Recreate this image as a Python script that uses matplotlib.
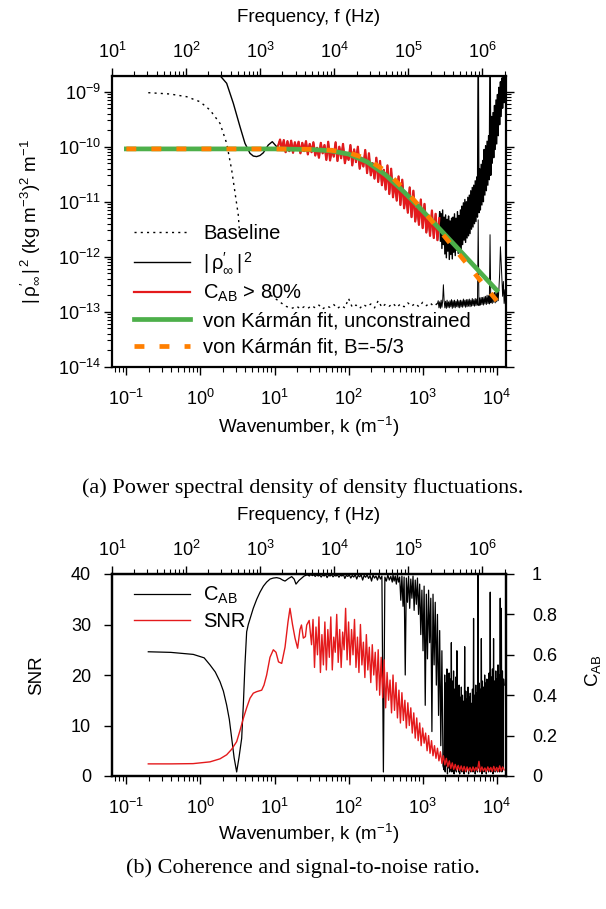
import numpy as np
import matplotlib
matplotlib.use('Agg')
import matplotlib.pyplot as plt
from matplotlib.ticker import FixedLocator

plt.rcParams['font.family'] = ['Liberation Sans', 'DejaVu Sans']
plt.rcParams['mathtext.fontset'] = 'custom'
plt.rcParams['mathtext.rm'] = 'Liberation Sans'
plt.rcParams['mathtext.it'] = 'Liberation Sans:italic'
plt.rcParams['mathtext.default'] = 'regular'

RED = '#e41a1c'
GREEN = '#4daf4a'
ORANGE = '#ff7f00'

# frequency = k * U / (2 pi)
F_PER_K = 156.0
FREQ_TICKS = [1e1, 1e2, 1e3, 1e4, 1e5, 1e6]

# ---------------- panel (a): spectra, log10 values ----------------
# baseline, smooth low-k part
bl1_logk = [-0.704, -0.55, -0.411, -0.186, -0.006, 0.129, 0.264, 0.354, 0.422, 0.511, 0.53]
bl1_logP = [-9.018, -9.03, -9.042, -9.091, -9.182, -9.333, -9.575, -9.938, -10.424, -11.242, -11.6]
# baseline, after it comes back into range
bl2_logk = [0.95, 1.05, 1.15, 1.23]
bl2_logP = [-12.70, -12.80, -12.90, -12.94]
# baseline noise, logk 1.25 .. 3.20
bl3_logP = [-12.93, -12.90, -12.95, -12.91, -12.94, -12.89, -12.93, -12.88, -12.95, -12.90,
            -12.92, -12.87, -12.94, -12.89, -12.93, -12.76, -12.92, -12.88, -12.94, -12.87,
            -12.91, -12.86, -12.93, -12.80, -12.92, -12.86, -12.90, -12.85, -12.92, -12.86,
            -12.91, -12.84, -12.90, -12.85, -12.91, -12.83, -12.89, -12.84, -12.90, -12.85]
# baseline noise, logk 3.21 .. 4.12
bl4_logP = [-12.80, -12.93, -12.82, -12.94, -12.79, -12.92, -12.81, -12.51, -12.80, -12.93,
            -12.81, -12.94, -12.79, -12.92, -12.82, -12.93, -12.80, -12.91, -12.78, -12.94,
            -12.80, -12.92, -12.79, -12.93, -12.81, -12.91, -12.78, -12.92, -12.80, -12.93,
            -12.79, -12.91, -12.80, -12.92, -12.77, -12.90, -12.79, -12.92, -12.78, -12.91,
            -12.78, -12.90, -12.77, -12.91, -12.79, -12.90, -12.76, -12.89, -12.78, -12.90,
            -12.76, -12.89, -12.77, -12.88, -11.33, -12.89, -12.75, -12.88, -12.74, -12.87,
            -12.74, -12.88, -12.73, -12.86, -12.72, -12.87, -12.70, -12.85, -12.71, -12.86,
            -11.60, -12.84, -12.68, -12.85, -12.66, -12.83, -12.65, -12.84, -12.63, -12.82,
            -12.62, -12.80, -12.58, -12.30, -11.82, -12.10, -12.40, -12.72, -12.45, -12.85,
            -12.60, -12.95]

# |rho'|^2, low-k part
rho_lo_logk = [-0.70, 0.10, 0.20, 0.266, 0.354, 0.444, 0.534, 0.601, 0.669, 0.714,
               0.759, 0.804, 0.849, 0.916, 0.970, 1.029]
rho_lo_logP = [-7.5, -8.2, -8.55, -8.71, -8.847, -9.211, -9.636, -9.938, -10.12, -10.17,
               -10.18, -10.16, -10.11, -9.969, -9.909, -10.0]
# C_AB > 80 % part, logk 1.05 .. 3.225
red_logP = [-9.98, -9.87, -10.06, -9.88, -10.10, -9.90, -10.08, -9.89, -10.11, -9.92,
            -10.06, -9.91, -10.12, -9.93, -10.08, -9.90, -10.14, -9.95, -10.10, -9.92,
            -10.16, -10.02, -10.20, -9.93, -10.12, -9.97, -10.24, -9.91, -10.25, -10.04,
            -10.18, -9.92, -10.26, -10.00, -10.21, -9.95, -10.30, -10.12, -10.24, -9.97,
            -10.34, -10.05, -10.28, -10.00, -10.40, -10.20, -10.36, -10.06, -10.48, -10.12,
            -10.52, -10.30, -10.58, -10.20, -10.64, -10.26, -10.70, -10.42, -10.78, -10.34,
            -10.86, -10.40, -10.92, -10.62, -10.98, -10.54, -11.06, -10.60, -11.12, -10.84,
            -11.20, -10.74, -11.28, -10.80, -11.36, -11.05, -11.42, -10.96, -11.48, -11.04,
            -11.56, -11.25, -11.62, -11.16, -11.66, -11.22, -11.70, -11.30]
# |rho'|^2, noisy high-k part, logk 3.23 .. 4.12
rho_hi_logP = [-11.18, -11.72, -11.22, -11.85, -11.15, -11.78, -11.28, -11.95, -11.24, -12.02,
               -11.32, -11.90, -11.26, -12.05, -11.35, -11.96, -11.30, -12.04, -11.28, -11.92,
               -11.22, -11.98, -11.30, -11.88, -11.18, -11.94, -11.25, -11.85, -11.15, -11.90,
               -11.08, -11.78, -11.02, -11.70, -10.96, -11.74, -11.00, -11.66, -10.92, -11.62,
               -10.88, -11.58, -10.80, -11.50, -10.74, -11.46, -10.70, -11.40, -10.62, -11.36,
               -10.55, -11.28, -8.00, -11.20, -10.40, -11.15, -10.32, -11.06, -10.25, -11.00,
               -10.05, -10.88, -9.98, -10.80, -9.90, -10.70, -9.80, -10.60, -8.00, -10.52,
               -9.45, -10.30, -9.38, -10.20, -9.25, -10.05, -9.15, -9.95, -9.05, -9.80,
               -8.92, -9.60, -8.82, -9.45, -8.75, -9.30, -8.65, -9.20, -8.55, -9.05]

# von Karman fits
fit_logk = [-1.0, 0.0, 1.0, 1.5, 1.75, 2.0, 2.25, 2.5, 2.75, 3.0, 3.25, 3.5, 3.75, 4.0]
fit_free_logP = [-10.04, -10.04, -10.04, -10.051, -10.073, -10.134, -10.275, -10.513,
                 -10.824, -11.168, -11.525, -11.885, -12.247, -12.609]
fit_b53_logP = [-10.04, -10.04, -10.041, -10.047, -10.063, -10.108, -10.221, -10.444,
                -10.769, -11.150, -11.556, -11.968, -12.384, -12.80]

# ---------------- panel (b): coherence and SNR ----------------
cab_lo_logk = [-0.704, -0.40, -0.097, 0.05, 0.129, 0.20, 0.264, 0.31, 0.354, 0.39,
               0.422, 0.455, 0.489, 0.52, 0.557, 0.58, 0.601, 0.624, 0.646, 0.713,
               0.76, 0.804, 0.85, 0.894, 0.94, 0.984, 1.03, 1.074, 1.11, 1.142,
               1.19, 1.232, 1.265, 1.290, 1.33, 1.367, 1.40, 1.435]
cab_lo = [0.615, 0.612, 0.602, 0.585, 0.55, 0.515, 0.467, 0.42, 0.351, 0.28,
          0.187, 0.09, 0.02, 0.09, 0.187, 0.36, 0.55, 0.714, 0.75, 0.83,
          0.875, 0.91, 0.94, 0.96, 0.975, 0.98, 0.982, 0.978, 0.97, 0.965,
          0.978, 0.987, 0.975, 0.95, 0.968, 0.98, 0.99, 0.995]
# logk 1.45 .. 2.59
cab_mid = [0.995, 0.99, 0.998, 0.992, 0.996, 0.988, 0.997, 0.99, 0.995, 0.985,
           0.996, 0.99, 0.998, 0.982, 0.995, 0.99, 0.997, 0.986, 0.994, 0.99,
           0.996, 0.984, 0.995, 0.99, 0.998, 0.978, 0.994, 0.988, 0.996, 0.98,
           0.993, 0.985, 0.997, 0.975, 0.994, 0.986, 0.996, 0.97, 0.993, 0.984,
           0.996, 0.978, 0.992, 0.965, 0.995, 0.98, 0.99, 0.97, 0.994, 0.975,
           0.99, 0.02, 0.985, 0.965, 0.995, 0.97, 0.988, 0.96]
# logk 2.60 .. 3.275
cab_hi = [0.995, 0.965, 0.99, 0.95, 0.995, 0.96, 0.985,
          0.87, 0.99, 0.84, 0.985, 0.5, 0.98, 0.86, 0.99, 0.83, 0.975, 0.88, 0.99, 0.82,
          0.97, 0.85, 0.98, 0.80,
          0.95, 0.70, 0.92, 0.62, 0.94, 0.35, 0.90, 0.58, 0.92, 0.66, 0.88, 0.22, 0.90,
          0.55, 0.86, 0.45, 0.80, 0.30, 0.72, 0.15, 0.62, 0.05]
# logk 3.29 .. 4.10
cab_tail = [0.03, 0.50, 0.02, 0.46, 0.05, 0.53, 0.01, 0.44, 0.04, 0.51,
            0.02, 0.48, 0.03, 0.66, 0.02, 0.47, 0.04, 0.52, 0.01, 0.43,
            0.03, 0.49, 0.02, 0.62, 0.05, 0.41, 0.02, 0.45, 0.01, 0.39,
            0.03, 0.44, 0.02, 0.40, 0.04, 0.37, 0.01, 0.64, 0.03, 0.42,
            0.02, 0.38, 0.04, 0.44, 0.01, 0.39, 0.03, 0.41, 0.02, 0.36,
            0.04, 0.43, 0.02, 0.78, 0.03, 0.40, 0.01, 0.45, 0.03, 0.41,
            0.02, 1.00, 0.04, 0.46, 0.02, 0.43, 0.03, 0.68, 0.01, 0.47,
            0.03, 0.44, 0.02, 0.50, 0.04, 0.46, 0.01, 0.48, 0.03, 0.45,
            0.02, 0.51, 0.04, 0.91, 0.02, 0.49, 0.03, 0.53, 0.01, 0.68,
            0.04, 0.47, 0.02, 0.52, 0.03, 0.48, 0.02, 0.55, 0.04, 0.50,
            0.02, 0.88, 0.03, 0.83, 0.02, 0.52, 0.04, 0.48, 0.45]

snr_lo_logk = [-0.704, -0.40, -0.10, 0.129, 0.264, 0.354, 0.422, 0.489, 0.534, 0.579,
               0.624, 0.669, 0.714, 0.759, 0.827, 0.858, 0.894, 0.939, 0.984, 1.02,
               1.054, 1.097, 1.142, 1.182, 1.209, 1.243, 1.277, 1.312, 1.344, 1.364,
               1.389, 1.417, 1.435, 1.468]
snr_lo = [2.4, 2.4, 2.45, 2.8, 3.4, 4.2, 5.3, 6.8, 9.0, 11.4,
          13.5, 15.4, 16.4, 16.7, 17.0, 18.0, 20.0, 23.5, 25.0, 24.5,
          22.6, 22.3, 25.5, 30.5, 33.2, 30.0, 27.3, 25.3, 29.0, 29.9,
          27.3, 27.6, 29.9, 30.8]
# logk 1.50 .. 4.10
snr_hi = [26.0, 31.0, 21.5, 29.5, 24.0, 31.5, 20.5, 28.0, 22.0, 30.5,
          21.0, 29.0, 23.5, 31.5, 21.0, 27.5, 24.5, 32.0, 22.5, 29.0,
          21.5, 28.5, 25.0, 33.2, 23.0, 30.5, 22.0, 29.0, 24.0, 31.0,
          21.5, 27.5, 20.5, 30.0, 22.0, 26.5, 19.5, 28.0, 21.0, 25.5,
          18.5, 26.0, 20.0, 24.5, 17.0, 25.0, 16.0, 23.5, 15.5, 23.0,
          13.5, 20.5, 15.0, 19.0, 12.5, 20.0, 13.0, 18.5, 11.5, 17.0,
          10.5, 16.5, 11.0, 15.0, 9.5, 14.5, 10.0, 13.5, 8.5, 12.5,
          7.5, 11.5, 7.0, 10.5, 6.0, 9.5, 6.5, 8.5, 5.0, 8.0,
          4.5, 7.0, 4.0, 6.0, 3.5, 5.5, 3.0, 4.8, 2.5, 4.0,
          2.2, 3.5, 1.8, 3.0, 1.5, 2.6, 1.3, 2.3, 1.2, 2.1,
          1.1, 2.0, 1.0, 1.9, 0.9, 1.8, 1.0, 1.7, 0.9, 1.8,
          1.0, 1.7, 1.1, 2.9, 0.9, 1.8, 1.0, 1.6, 0.9, 1.8,
          1.0, 1.7, 0.9, 1.9, 1.0, 1.7, 0.9, 2.0, 1.0, 1.8,
          1.2]

# ---------------- assemble ----------------
k_base_sparse = np.concatenate([10 ** np.array(bl1_logk), [np.nan], 10 ** np.array(bl2_logk),
                                np.logspace(1.25, 3.20, len(bl3_logP))])
P_base_sparse = 10 ** np.concatenate([bl1_logP, [np.nan], bl2_logP, bl3_logP])
k_base_dense = np.concatenate([[k_base_sparse[-1]], np.logspace(3.21, 4.12, len(bl4_logP))])
P_base_dense = 10 ** np.concatenate([[bl3_logP[-1]], bl4_logP])

k_red = np.logspace(1.05, 3.225, len(red_logP))
P_red = 10 ** np.array(red_logP)
k_rho = np.concatenate([10 ** np.array(rho_lo_logk), k_red,
                        np.logspace(3.23, 4.12, len(rho_hi_logP))])
P_rho = 10 ** np.concatenate([rho_lo_logP, red_logP, rho_hi_logP])
k_fit = 10 ** np.array(fit_logk)

k_cab = np.concatenate([10 ** np.array(cab_lo_logk), np.logspace(1.45, 2.59, len(cab_mid)),
                        np.logspace(2.60, 3.275, len(cab_hi)),
                        np.logspace(3.29, 4.10, len(cab_tail))])
cab = np.concatenate([cab_lo, cab_mid, cab_hi, cab_tail])
k_snr = np.concatenate([10 ** np.array(snr_lo_logk), np.logspace(1.50, 4.10, len(snr_hi))])
snr = np.concatenate([snr_lo, snr_hi])

W, H = 606.0, 909.0
XL, XR = 112.0, 505.6
KMIN, KMAX = 10 ** -1.194, 10 ** 4.12
FS_TICK = 13
FS_LAB = 13.5
FS_LEG = 14.5

fig = plt.figure(figsize=(6.06, 9.09), dpi=100)


def style_axis(ax):
    for s in ax.spines.values():
        s.set_linewidth(1.6)
    ax.tick_params(which='major', direction='out', length=6, width=1, labelsize=FS_TICK)
    ax.tick_params(which='minor', direction='out', length=3.5, width=0.8)


def add_freq_axis(ax, top_px, bot_px):
    sec = ax.secondary_xaxis('top', functions=(lambda k: k * F_PER_K, lambda f: f / F_PER_K))
    sec.xaxis.set_major_locator(FixedLocator(FREQ_TICKS))
    sec.tick_params(which='major', direction='out', length=6, width=1, labelsize=FS_TICK, pad=4)
    sec.tick_params(which='minor', direction='out', length=3.5, width=0.8)
    sec.set_xlabel('Frequency, f (Hz)', fontsize=FS_LAB)
    sec.xaxis.set_label_coords(0.5, 1 + 58.7 / (bot_px - top_px), transform=ax.transAxes)
    sec.xaxis.label.set_va('center')
    return sec


# ---------------- panel (a) ----------------
a_top, a_bot = 75.7, 366.7
axa = fig.add_axes([XL / W, 1 - a_bot / H, (XR - XL) / W, (a_bot - a_top) / H])
axa.set_xscale('log')
axa.set_yscale('log')
axa.plot(k_base_sparse, P_base_sparse, color='black', lw=1.0, ls=(0, (1.5, 3)),
         label='Baseline')
axa.plot(k_base_dense, P_base_dense, color='black', lw=0.7)
axa.plot(k_rho, P_rho, color='black', lw=1.0,
         label=r'$|\,\rho^{\prime}_{\infty}\,|^{\,2}$')
axa.plot(k_red, P_red, color=RED, lw=1.6, label=r'$C_{AB}$ > 80%')
axa.plot(k_fit, 10 ** np.array(fit_free_logP), color=GREEN, lw=3.4,
         label='von Kármán fit, unconstrained')
axa.plot(k_fit, 10 ** np.array(fit_b53_logP), color=ORANGE, lw=3.4, ls=(0, (2.1, 3.2)),
         label='von Kármán fit, B=-5/3')
axa.set_xlim(KMIN, KMAX)
axa.set_ylim(1e-14, 10 ** -8.709)
style_axis(axa)
axa.tick_params(which='both', top=False, right=True)
axa.tick_params(axis='y', which='major', pad=2)
axa.tick_params(axis='x', which='major', pad=10)
axa.set_xlabel('Wavenumber, k (m$^{-1}$)', fontsize=FS_LAB)
axa.xaxis.set_label_coords(0.5, -(426.7 - a_bot) / (a_bot - a_top))
axa.xaxis.label.set_va('center')
axa.set_ylabel(r'$|\,\rho^{\prime}_{\infty}\,|^{\,2}$ (kg m$^{-3}$)$^2$ m$^{-1}$', fontsize=FS_LAB)
axa.yaxis.set_label_coords(-(XL - 30) / (XR - XL), 0.5)
axa.yaxis.label.set_va('center')
add_freq_axis(axa, a_top, a_bot)
axa.legend(loc='upper left', bbox_to_anchor=(0.055, 0.49), frameon=False, fontsize=FS_LEG,
           handlelength=2.8, handletextpad=0.65, labelspacing=0.36, borderpad=0, borderaxespad=0)

fig.text(0.5, 1 - 488 / H, '(a) Power spectral density of density fluctuations.',
         ha='center', va='center', fontsize=16, family='Liberation Serif')

# ---------------- panel (b) ----------------
b_top, b_bot = 574.0, 776.0
axb = fig.add_axes([XL / W, 1 - b_bot / H, (XR - XL) / W, (b_bot - b_top) / H])
axc = axb.twinx()
axb.set_zorder(axc.get_zorder() + 1)
axb.patch.set_visible(False)
axb.set_xscale('log')
l_cab, = axc.plot(k_cab, cab, color='black', lw=0.9, label=r'$C_{AB}$')
l_snr, = axb.plot(k_snr, snr, color=RED, lw=1.0, label='SNR')
axb.set_xlim(KMIN, KMAX)
axb.set_ylim(0, 40)
axc.set_ylim(0, 1)
axb.set_yticks([0, 10, 20, 30, 40])
axc.set_yticks([0, 0.2, 0.4, 0.6, 0.8, 1.0])
axc.set_yticklabels(['0', '0.2', '0.4', '0.6', '0.8', '1'])
style_axis(axb)
style_axis(axc)
axb.tick_params(which='both', top=False, right=False)
axb.tick_params(axis='y', which='major', pad=9)
axb.tick_params(axis='x', which='major', pad=10)
axc.tick_params(axis='y', which='major', pad=13)
axb.set_xlabel('Wavenumber, k (m$^{-1}$)', fontsize=FS_LAB)
axb.xaxis.set_label_coords(0.5, -(834 - b_bot) / (b_bot - b_top))
axb.xaxis.label.set_va('center')
axb.set_ylabel('SNR', fontsize=FS_LAB)
axb.yaxis.set_label_coords(-(XL - 37) / (XR - XL), 0.5)
axb.yaxis.label.set_va('center')
axc.set_ylabel(r'$C_{AB}$', fontsize=FS_LAB)
axc.yaxis.set_label_coords(1 + (593 - XR) / (XR - XL), 0.52)
axc.yaxis.label.set_va('center')
add_freq_axis(axb, b_top, b_bot)
axb.legend(handles=[l_cab, l_snr], loc='upper left', bbox_to_anchor=(0.055, 0.945),
           frameon=False, fontsize=FS_LEG, handlelength=2.8, handletextpad=0.65,
           labelspacing=0.3, borderpad=0, borderaxespad=0)

fig.text(0.5, 1 - 868 / H, '(b) Coherence and signal-to-noise ratio.',
         ha='center', va='center', fontsize=16, family='Liberation Serif')

fig.savefig('out.png', dpi=100, facecolor='white')
